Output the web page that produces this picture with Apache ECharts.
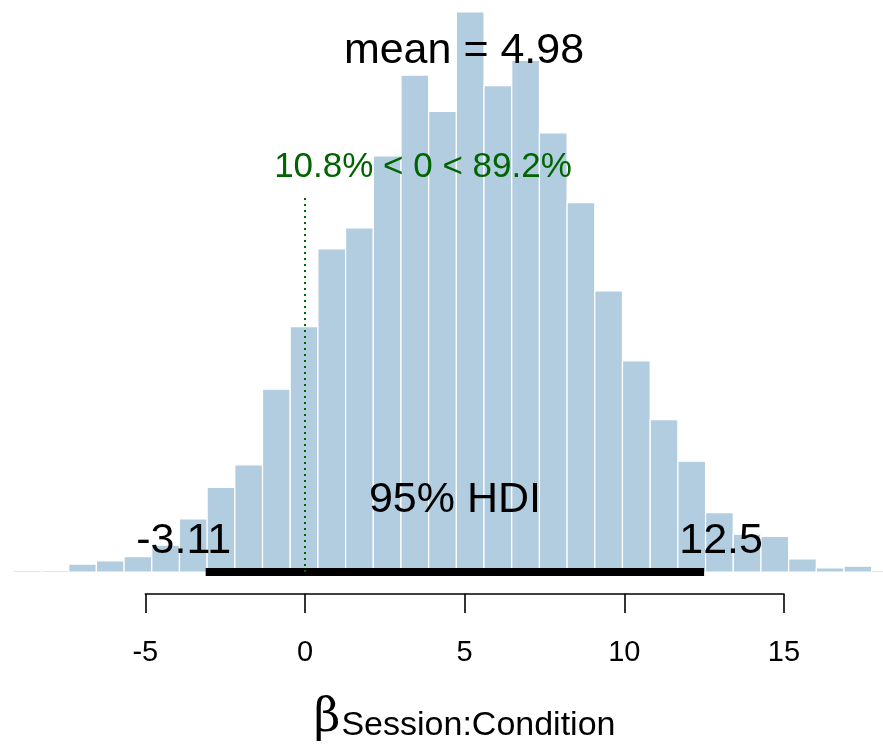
<!DOCTYPE html>
<html>
<head>
<meta charset="utf-8">
<title>posterior beta Session:Condition</title>
<script src="https://cdn.jsdelivr.net/npm/echarts@6/dist/echarts.min.js"></script>
<style>
  html, body { margin: 0; padding: 0; background: #fff; }
  #main { width: 883px; height: 744px; }
</style>
</head>
<body>
<div id="main"></div>
<script>
// histogram bin edges (lower edge of each bin + last upper edge)
var binEdges = [-9.135, -8.268, -7.401, -6.534, -5.666, -4.799, -3.932, -3.065, -2.198, -1.330,
  -0.463, 0.404, 1.271, 2.139, 3.006, 3.873, 4.740, 5.607, 6.475, 7.342,
  8.209, 9.076, 9.943, 10.811, 11.678, 12.545, 13.412, 14.279, 15.147, 16.014,
  16.881, 17.748, 18.615]

// density of each bin
var density = [0.0003, 0.0003, 0.0015, 0.0021, 0.0029, 0.0051, 0.0101, 0.0161, 0.0204, 0.0348,
  0.0467, 0.0615, 0.0655, 0.0792, 0.0946, 0.0877, 0.1066, 0.0926, 0.0974, 0.0836,
  0.0703, 0.0535, 0.0402, 0.0290, 0.0211, 0.0113, 0.0072, 0.0068, 0.0025, 0.0008,
  0.0011, 0.0003]

var meanValue = 4.98
var hdiLow = -3.11
var hdiHigh = 12.5
var compVal = 0
var pctBelow = 10.8
var pctAbove = 89.2
var tickValues = [-5, 0, 5, 10, 15]

// heights (density units) where the annotations sit
var meanTextY = 0.0991
var compTextY = 0.0770
var compLineTop = 0.0716
var hdiTextY = 0.0136
var hdiEndTextY = 0.0058

var xMin = -9.552
var xMax = 18.102
var yMax = 0.1066
var W = 883
var barColor = '#b3cde0'
var font = '"Liberation Sans", Arial, Helvetica, sans-serif'

var bins = []
for (var i = 0; i < density.length; i++) {
  bins.push([binEdges[i], binEdges[i + 1], density[i]])
}

// second grid only carries the -5..15 axis, aligned with the first grid's scale
var axLeft = (tickValues[0] - xMin) / (xMax - xMin) * W
var axRight = W - (tickValues[tickValues.length - 1] - xMin) / (xMax - xMin) * W

function renderBin(params, api) {
  var top = api.coord([api.value(0), api.value(2)])
  var bot = api.coord([api.value(1), 0])
  return {
    type: 'rect',
    shape: { x: top[0], y: top[1], width: bot[0] - top[0], height: bot[1] - top[1] },
    style: { fill: barColor, stroke: '#ffffff', lineWidth: 1.2 }
  }
}

function textItem(x, y, text, size, color, offset) {
  return {
    value: [x, y],
    label: {
      show: true,
      position: 'inside',
      align: 'center',
      verticalAlign: 'middle',
      formatter: text,
      fontSize: size,
      color: color,
      opacity: 1,
      textBorderWidth: 0,
      textBorderColor: 'transparent',
      fontFamily: font,
      offset: offset || [0, 0]
    }
  }
}

var chart = echarts.init(document.getElementById('main'), null, { renderer: 'canvas' })

var option = {
  animation: false,
  backgroundColor: '#ffffff',
  grid: [
    { left: 0, right: 0, top: 12, bottom: 172 },
    { left: axLeft, right: axRight, top: 560, bottom: 148 }
  ],
  xAxis: [
    { type: 'value', gridIndex: 0, min: xMin, max: xMax, show: false },
    {
      type: 'value', gridIndex: 1, min: tickValues[0], max: tickValues[tickValues.length - 1], interval: 5,
      position: 'bottom',
      splitLine: { show: false },
      axisLine: { show: true, onZero: false, lineStyle: { color: '#000', width: 1.6 } },
      axisTick: { show: true, length: 19, lineStyle: { color: '#000', width: 1.6 } },
      axisLabel: { margin: 44, fontSize: 29, color: '#000', fontFamily: font },
      name: '{b|β}{s|Session:Condition}',
      nameLocation: 'middle',
      nameGap: 102,
      nameTextStyle: {
        rich: {
          b: { fontSize: 46, fontFamily: '"DejaVu Serif", serif', color: '#000', verticalAlign: 'bottom', padding: [0, 1, 1, 0] },
          s: { fontSize: 34, fontFamily: font, color: '#000', verticalAlign: 'bottom' }
        }
      }
    }
  ],
  yAxis: [
    { type: 'value', gridIndex: 0, min: 0, max: yMax, show: false },
    { type: 'value', gridIndex: 1, show: false }
  ],
  series: [
    {
      type: 'custom',
      xAxisIndex: 0,
      yAxisIndex: 0,
      renderItem: renderBin,
      encode: { x: [0, 1], y: 2 },
      data: bins,
      silent: true
    },
    {
      // 95% HDI bar
      type: 'line',
      xAxisIndex: 0,
      yAxisIndex: 0,
      data: [[hdiLow, 0], [hdiHigh, 0]],
      symbol: 'none',
      clip: false,
      lineStyle: { color: '#000', width: 8, cap: 'butt' },
      silent: true,
      z: 3
    },
    {
      // comparison value line
      type: 'line',
      xAxisIndex: 0,
      yAxisIndex: 0,
      data: [[compVal, 0], [compVal, compLineTop]],
      symbol: 'none',
      lineStyle: { color: '#006400', width: 2, type: [2, 4] },
      silent: true,
      z: 3
    },
    {
      // text annotations (scatter default opacity is 0.8, so reset it)
      type: 'scatter',
      xAxisIndex: 0,
      yAxisIndex: 0,
      symbolSize: 0,
      itemStyle: { opacity: 1 },
      silent: true,
      z: 4,
      data: [
        textItem(meanValue, meanTextY, 'mean = ' + meanValue, 43, '#000'),
        textItem(compVal, compTextY, pctBelow + '% < ' + compVal + ' < ' + pctAbove + '%', 35, '#006400', [118, 0]),
        textItem((hdiLow + hdiHigh) / 2, hdiTextY, '95% HDI', 43, '#000'),
        textItem(hdiLow, hdiEndTextY, String(hdiLow), 43, '#000', [-22, 0]),
        textItem(hdiHigh, hdiEndTextY, String(hdiHigh), 43, '#000', [17, 0])
      ]
    }
  ]
}

chart.setOption(option)
</script>
</body>
</html>
